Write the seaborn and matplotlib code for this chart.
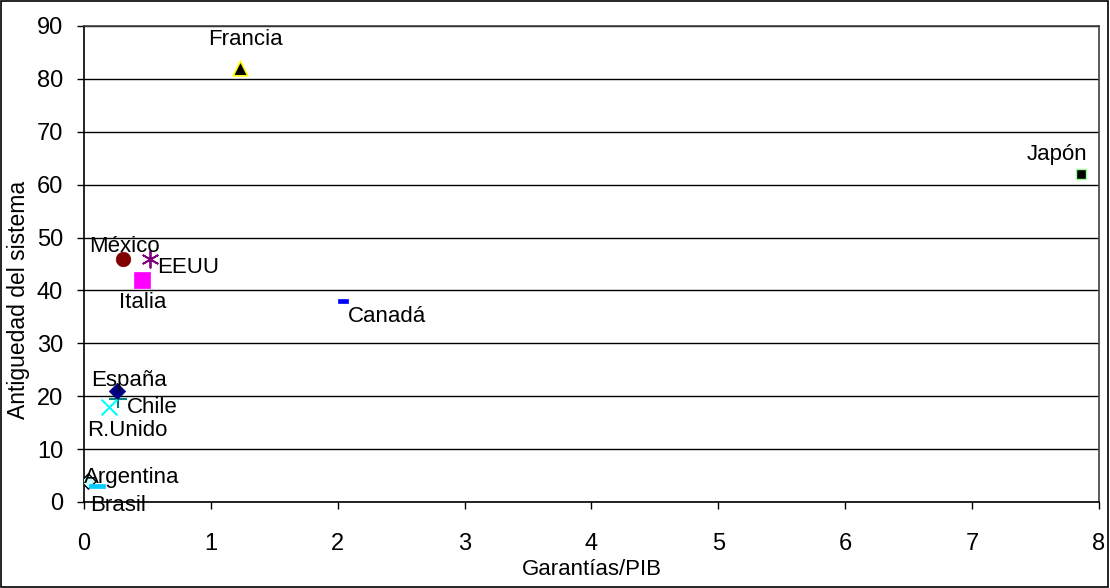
import matplotlib
matplotlib.use("Agg")
import matplotlib.pyplot as plt
from matplotlib.patches import Rectangle
import seaborn as sns
import pandas as pd

sns.set_theme(style="white")
plt.rcParams["font.family"] = ["Liberation Sans", "DejaVu Sans"]
plt.rcParams.update({"text.color": "black", "axes.labelcolor": "black",
                     "xtick.color": "black", "ytick.color": "black"})

paises = ["Argentina", "Brasil", "Canadá", "Chile", "España", "EEUU",
          "Francia", "Italia", "Japón", "México", "R.Unido"]
garantias_pib = [0.03, 0.10, 2.04, 0.27, 0.26, 0.52, 1.23, 0.46, 7.86, 0.31, 0.20]
antiguedad = [4, 3, 38, 19.5, 21, 46, 82, 42, 62, 46, 18]

df = pd.DataFrame({"pais": paises, "garantias": garantias_pib, "antiguedad": antiguedad})

bar = [(-1, -0.3), (1, -0.3), (1, 0.3), (-1, 0.3), (-1, -0.3)]
estilos = {
    "Argentina": dict(marker="D", color="#CCFFFF", edgecolor="black", s=60, linewidth=1.0),
    "Brasil": dict(marker=bar, color="#00CCFF", edgecolor="#00CCFF", s=140, linewidth=0.5),
    "Canadá": dict(marker=bar, color="#0000FF", edgecolor="#0000FF", s=60, linewidth=0.5),
    "Chile": dict(marker="+", color="#008080", s=150, linewidth=1.5),
    "España": dict(marker="D", color="#000080", edgecolor="#000080", s=70, linewidth=0.5),
    "EEUU": dict(marker=(6, 2, 0), color="#800080", s=140, linewidth=1.3),
    "Francia": dict(marker="^", color="black", edgecolor="#FFFF00", s=110, linewidth=1.2),
    "Italia": dict(marker="s", color="#FF00FF", edgecolor="#FF00FF", s=130, linewidth=0.5),
    "Japón": dict(marker="s", color="black", edgecolor="#99FF99", s=60, linewidth=1.0),
    "México": dict(marker="o", color="#800000", edgecolor="#800000", s=110, linewidth=0.5),
    "R.Unido": dict(marker="x", color="#00FFFF", s=130, linewidth=1.5),
}

# label offsets in pixels and alignment
etiquetas = {
    "Argentina": ((-4, 3), "left", "center"),
    "Brasil": ((-7, -19), "left", "center"),
    "Canadá": ((5, -15), "left", "center"),
    "Chile": ((9, -9), "left", "center"),
    "España": ((12, 10), "center", "center"),
    "EEUU": ((7, -9), "left", "center"),
    "Francia": ((5, 29), "center", "center"),
    "Italia": ((0, -23), "center", "center"),
    "Japón": ((6, 20), "right", "center"),
    "México": ((1, 12), "center", "center"),
    "R.Unido": ((18, -24), "center", "center"),
}

fig = plt.figure(figsize=(11.1, 5.88), dpi=100)
ax = fig.add_axes([0.0757, 0.1463, 0.9143, 0.8095])

for _, fila in df.iterrows():
    sns.scatterplot(x=[fila["garantias"]], y=[fila["antiguedad"]], ax=ax,
                    zorder=3, legend=False, **estilos[fila["pais"]])
    (dx, dy), ha, va = etiquetas[fila["pais"]]
    ax.annotate(fila["pais"], (fila["garantias"], fila["antiguedad"]),
                xytext=(dx, dy), textcoords="offset pixels",
                ha=ha, va=va, fontsize=16, color="black", zorder=4)

ax.set_xlim(0, 8)
ax.set_ylim(0, 90)
ax.set_xticks(range(0, 9))
ax.set_yticks(range(0, 91, 10))
ax.yaxis.grid(True, color="black", linewidth=1.0)
ax.xaxis.grid(False)
ax.set_axisbelow(True)
ax.tick_params(axis="both", which="both", direction="out", length=5, width=1,
               color="black", labelcolor="black", labelsize=17, bottom=True, left=True)
ax.tick_params(axis="x", pad=17)
ax.tick_params(axis="y", pad=10)
for lado in ["top", "right"]:
    ax.spines[lado].set_color("#404040")
    ax.spines[lado].set_linewidth(1.2)
for lado in ["left", "bottom"]:
    ax.spines[lado].set_color("black")
    ax.spines[lado].set_linewidth(1.2)

ax.set_xlabel("Garantías/PIB", fontsize=16, labelpad=3, color="black")
ax.set_ylabel("Antiguedad del sistema", fontsize=16.5, color="black")
ax.yaxis.set_label_coords(-0.053, 0.425)

fig.patches.append(Rectangle((0.001, 0.002), 0.997, 0.996, transform=fig.transFigure,
                             fill=False, edgecolor="black", linewidth=1.2))

fig.savefig("out.png", dpi=100, facecolor="white")
